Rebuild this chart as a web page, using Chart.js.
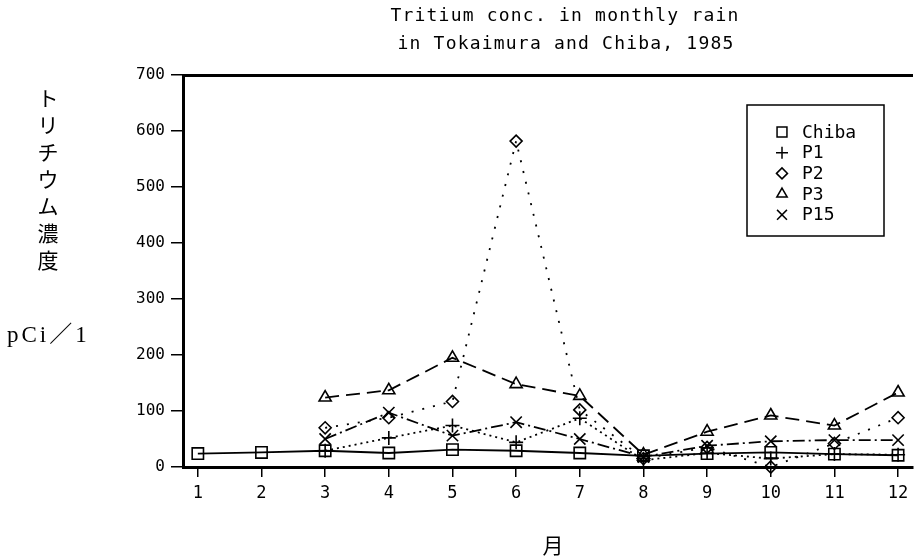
<!DOCTYPE html>
<html>
<head>
<meta charset="utf-8">
<script src="https://cdn.jsdelivr.net/npm/chart.js@4.4.0/dist/chart.umd.min.js"></script>
<style>
    html, body { margin: 0; padding: 0; background: #fff; }
    #chart { display: block; }
</style>
</head>
<body>
<canvas id="chart" width="922" height="558"></canvas>
<script>
(function () {
    'use strict';

    // monthly tritium concentration, pCi/l
    var months = [1, 2, 3, 4, 5, 6, 7, 8, 9, 10, 11, 12];
    var yTicks = [0, 100, 200, 300, 400, 500, 600, 700];
    var chiba = [24, 26, 29, 25, 31, 29, 25, 20, 24, 26, 23, 21];
    var p1 = [null, null, 29, 52, 74, 44, 87, 12, 25, 15, 23, 22];
    var p2 = [null, null, 70, 88, 117, 582, 102, 15, 35, 0, 42, 88];
    var p3 = [null, null, 124, 137, 195, 148, 127, 22, 63, 92, 74, 133];
    var p15 = [null, null, 50, 97, 56, 80, 50, 18, 38, 46, 48, 48];
    var seriesNames = ['Chiba', 'P1', 'P2', 'P3', 'P15'];

    var titleLines = ['Tritium conc. in monthly rain', 'in Tokaimura and Chiba, 1985'];
    var yTitleChars = ['ト', 'リ', 'チ', 'ウ', 'ム', '濃', '度'];
    var yUnit = 'pCi／1';
    var xTitle = '月';

    var MONO = '"DejaVu Sans Mono", "Liberation Mono", monospace';
    var JP = '"Noto Sans CJK JP", sans-serif';
    var SERIF = '"Liberation Serif", "DejaVu Serif", "Noto Sans CJK JP", serif';

    function points(values) {
        return months.map(function (m, i) {
            return {x: m, y: values[i]};
        });
    }

    var styles = [
        {style: 'rect', radius: 8, key: 7, dash: []},
        {style: 'cross', radius: 7, key: 6, dash: [2, 4]},
        {style: 'rectRot', radius: 6, key: 5.5, dash: [2, 9]},
        {style: 'triangle', radius: 7, key: 6, dash: [14, 7]},
        {style: 'crossRot', radius: 8, key: 7, dash: [12, 4, 2, 4]}
    ];

    var datasets = [chiba, p1, p2, p3, p15].map(function (values, i) {
        return {
            label: seriesNames[i],
            data: points(values),
            borderColor: '#000',
            borderWidth: 1.8,
            borderDash: styles[i].dash,
            tension: 0,
            fill: false,
            pointStyle: styles[i].style,
            pointRadius: styles[i].radius,
            pointBorderWidth: 1.6,
            pointBorderColor: '#000',
            pointBackgroundColor: 'rgba(0,0,0,0)',
            clip: false
        };
    });

    // titles, axis captions and the boxed legend
    var textLayer = {
        id: 'textLayer',
        afterDraw: function (chart) {
            var ctx = chart.ctx;
            ctx.save();
            ctx.fillStyle = '#000';
            ctx.strokeStyle = '#000';

            ctx.font = '18px ' + MONO;
            ctx.letterSpacing = '1.2px';
            ctx.textAlign = 'center';
            ctx.textBaseline = 'middle';
            ctx.fillText(titleLines[0], 565, 16);
            ctx.fillText(titleLines[1], 566, 44);
            ctx.letterSpacing = '0px';

            ctx.font = '21px ' + JP;
            yTitleChars.forEach(function (ch, i) {
                ctx.fillText(ch, 48, 98 + i * 27);
            });
            ctx.font = '23px ' + SERIF;
            ctx.letterSpacing = '3px';
            ctx.textAlign = 'left';
            ctx.fillText(yUnit, 7, 336);
            ctx.letterSpacing = '0px';

            ctx.textAlign = 'center';
            ctx.font = '21px ' + JP;
            ctx.fillText(xTitle, 553, 545);

            // legend
            ctx.lineWidth = 1.5;
            ctx.strokeRect(747, 105, 137, 131);
            ctx.font = '18px ' + MONO;
            ctx.textAlign = 'left';
            seriesNames.forEach(function (name, i) {
                var y = 132 + i * 20.7;
                ctx.lineWidth = 1.5;
                ctx.setLineDash([]);
                ctx.fillStyle = 'rgba(0,0,0,0)';
                if (Chart.helpers && Chart.helpers.drawPoint) {
                    Chart.helpers.drawPoint(ctx, {
                        pointStyle: styles[i].style,
                        radius: styles[i].key,
                        rotation: 0,
                        borderWidth: 1.5
                    }, 782, y);
                }
                ctx.fillStyle = '#000';
                ctx.fillText(name, 802, y + 1);
            });
            ctx.restore();
        }
    };

    new Chart(document.getElementById('chart'), {
        type: 'line',
        data: {datasets: datasets},
        options: {
            responsive: false,
            animation: false,
            layout: {padding: {top: 75, left: 0, right: 0, bottom: 0}},
            plugins: {
                legend: {display: false},
                title: {display: false},
                tooltip: {enabled: false}
            },
            scales: {
                x: {
                    type: 'linear',
                    min: 0.767,
                    max: 12.225,
                    afterBuildTicks: function (scale) {
                        scale.ticks = months.map(function (m) { return {value: m}; });
                    },
                    afterFit: function (scale) { scale.height = 91; },
                    border: {display: true, color: '#000', width: 3},
                    grid: {
                        drawOnChartArea: false,
                        drawTicks: true,
                        tickLength: 10,
                        color: '#000',
                        lineWidth: 1.5
                    },
                    ticks: {
                        color: '#000',
                        padding: 6,
                        maxRotation: 0,
                        font: {family: MONO, size: 17}
                    }
                },
                top: {
                    type: 'linear',
                    position: 'top',
                    min: 0.767,
                    max: 12.225,
                    afterFit: function (scale) { scale.height = 0; },
                    border: {display: true, color: '#000', width: 3},
                    grid: {display: false, drawOnChartArea: false, drawTicks: false},
                    ticks: {display: false}
                },
                y: {
                    type: 'linear',
                    min: 0,
                    max: 700,
                    afterBuildTicks: function (scale) {
                        scale.ticks = yTicks.map(function (v) { return {value: v}; });
                    },
                    afterFit: function (scale) { scale.width = 183; },
                    border: {display: true, color: '#000', width: 3},
                    grid: {
                        drawOnChartArea: false,
                        drawTicks: true,
                        tickLength: 12,
                        color: '#000',
                        lineWidth: 1.5
                    },
                    ticks: {
                        color: '#000',
                        padding: 6,
                        font: {family: MONO, size: 16}
                    }
                }
            }
        },
        plugins: [textLayer]
    });
})();
</script>
</body>
</html>
